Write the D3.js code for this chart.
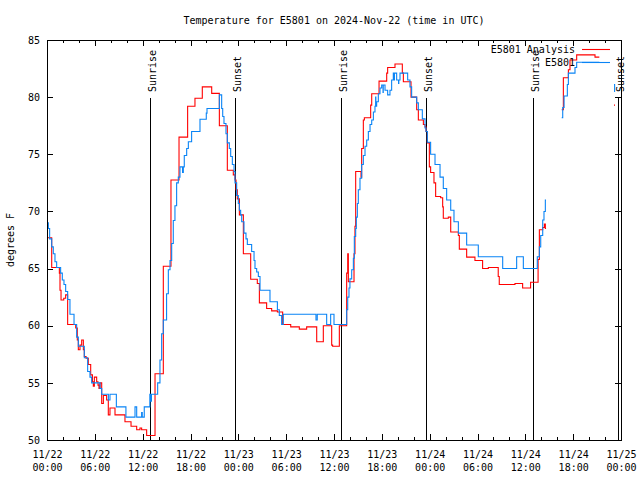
<!DOCTYPE html>
<html><head><meta charset="utf-8">
<script src="https://cdn.jsdelivr.net/npm/d3@7"></script>
<style>
body{margin:0;background:#fff}
svg text{font-family:"DejaVu Sans Mono",monospace;font-size:10px;fill:#000}
</style>
</head><body><svg id="c" width="640" height="480"></svg>
<script>
// ---- data (hours since 2024-11-22 00:00 UTC, temperature in deg F) ----
const tickDates = ["11/22","11/22","11/22","11/22","11/23","11/23","11/23","11/23","11/24","11/24","11/24","11/24","11/25"];
const tickTimes = ["00:00","06:00","12:00","18:00","00:00","06:00","12:00","18:00","00:00","06:00","12:00","18:00","00:00"];
const yTicks = [50,55,60,65,70,75,80,85];
const sunriseHours = [12.93, 36.94, 60.96];
const sunsetHours = [23.53, 47.55, 71.6];
const seriesNames = ["E5801 Analysis","E5801"];

const analysisHours = [0,0.59,1.55,1.63,1.76,2.1,2.34,2.59,3.6,3.8,3.93,4.14,4.35,4.56,4.68,4.9,5.18,5.48,5.7,5.81,5.94,6.23,6.4,6.52,6.65,6.86,7.07,7.48,7.69,7.9,8.53,9.78,10.54,11.25,11.66,11.87,12.5,13.55,14.59,15.55,16.56,17.64,18.56,19.48,20.66,21.62,22.62,23.37,23.58,23.71,23.87,24.13,24.63,25.55,26.38,26.64,27.55,28.18,28.9,29.56,30.57,31.65,32.57,33.83,34.66,35.71,35.83,36.67,37.59,37.72,37.8,38.51,38.63,38.72,39.39,39.47,39.68,39.81,40.6,40.73,41.65,42.61,42.73,43.65,44.57,44.7,45.66,46.37,46.58,47.21,47.42,47.54,47.71,47.96,48.12,48.54,48.75,49.38,49.63,49.71,50.34,50.64,51.6,51.72,52.64,53.68,54.64,55.36,56.6,56.73,58.7,59.66,60.66,61.6,61.76,62.18,62.39,62.51,62.6,62.61,64.56,64.77,65.4,65.6,66.44,68.74,69.28,69.29,71.12,71.25];
const analysisTemps = [67.7,65.1,64.6,63.1,62.25,62.4,62.7,60.1,59.8,58.75,57.9,58.3,58.75,57.9,57.3,57.15,56.6,55.7,55.1,54.7,55.5,55.1,54.8,54.5,55.0,53.2,53.9,53.5,52.2,52.8,52.2,51.6,51.2,50.9,51.05,50.9,50.4,55.8,65.2,72.75,76.5,79.2,79.9,80.9,80.33,77.5,73.6,73.2,72.75,71.9,71.1,69.7,66.3,64.06,63.7,62.0,61.5,61.3,61.2,60.1,59.9,59.7,59.9,58.6,60.0,58.3,58.2,60.0,64.6,66.3,63.85,66.3,68.7,73.5,73.0,75.5,78.0,78.2,79.3,80.3,81.4,82.1,82.6,82.9,82.1,81.35,80.0,78.9,78.0,77.6,77.4,77.0,76.0,73.9,73.4,72.5,71.3,71.2,70.4,69.4,69.5,68.2,67.9,66.7,66.0,65.7,65.0,65.1,64.3,63.6,63.7,63.3,63.8,65.8,68.4,68.6,68.9,68.5,68.5,null,78.9,81.7,82.4,83.25,83.7,83.5,83.5,null,79.3,79.3];

const stationHours = [0,0.17,0.33,0.59,0.79,1.0,1.21,1.71,1.92,2.13,2.34,2.59,2.88,3.39,3.72,3.93,4.68,5.1,5.39,5.6,6.65,6.86,7.7,7.9,8.7,9.9,11.04,11.25,11.87,11.95,12.2,12.9,13.0,13.1,13.88,14.17,14.38,14.59,15.0,15.22,15.43,15.64,15.84,16.05,16.26,16.47,16.68,17.0,17.1,17.22,17.52,17.73,18.14,19.19,19.98,20.07,21.62,21.91,22.04,22.2,22.45,22.62,22.87,23.04,23.25,23.46,23.58,23.79,24.0,24.13,24.29,24.42,24.71,24.96,25.13,25.67,25.97,26.09,26.3,26.51,26.72,27.97,28.9,29.14,29.43,29.64,33.74,33.9,35.08,35.58,36.0,37.59,37.72,37.88,38.0,38.22,38.43,38.55,38.72,38.8,38.93,39.05,39.26,39.47,39.68,39.89,40.1,40.31,40.52,40.73,40.94,41.14,41.22,41.25,41.35,41.56,41.77,41.98,42.15,42.18,42.4,42.73,43.02,43.23,43.44,43.55,43.58,43.86,44.1,44.13,44.28,45.24,45.53,45.74,46.37,46.58,47.08,47.42,47.54,47.71,48.12,48.67,49.3,49.71,50.13,50.64,51.05,51.6,52.64,54.1,57.16,58.91,59.75,61.5,61.76,61.93,62.18,62.34,62.51,62.6,62.61,64.56,64.69,64.86,65.27,65.4,66.23,66.44,69.28,69.29,71.12,71.2,71.25];
const stationTemps = [69.0,68.5,67.6,66.9,66.3,65.6,65.1,64.6,64.0,63.6,63.0,62.3,61.0,60.1,59.0,58.2,57.2,56.0,55.5,55.0,54.5,54.0,53.5,54.0,52.9,52.0,52.9,52.0,52.4,52.0,52.9,54.0,53.4,54.0,55.0,57.0,59.3,60.5,62.8,64.9,65.7,67.2,69.2,70.5,72.5,73.0,73.9,73.4,73.9,74.9,75.5,76.1,77.0,78.06,78.6,79.0,80.2,79.0,78.3,77.7,76.8,76.0,75.5,74.8,74.1,73.5,72.5,71.4,70.7,70.1,69.7,69.1,68.1,67.6,67.1,66.5,65.7,65.0,64.7,64.3,63.1,62.1,61.4,60.9,60.1,61.0,60.5,61.0,60.1,61.0,60.1,61.4,62.5,63.3,64.1,64.9,65.9,67.8,68.5,69.5,70.7,71.9,72.9,74.1,74.9,75.7,76.25,77.0,77.6,78.0,78.7,79.2,80.0,79.2,79.6,80.3,80.8,81.06,80.4,81.06,80.6,80.2,80.6,81.5,82.1,81.5,82.1,81.5,81.2,81.5,82.1,81.5,80.9,80.0,79.5,78.9,78.1,77.3,77.0,76.05,75.0,74.1,73.0,72.0,71.0,70.1,69.1,68.1,67.06,66.04,65.0,66.04,65.0,66.04,66.9,67.9,69.25,70.0,71.0,71.0,null,78.2,79.1,80.1,81.1,82.1,82.6,83.05,83.05,null,81.1,80.5,80.5];

// ---- drawing ----
const svg = d3.select("#c");
const L = 47, R = 621, T = 40, B = 440;
const x = d3.scaleLinear().domain([0,72]).range([L,R]);
const y = d3.scaleLinear().domain([50,85]).range([B,T]);
const majorHours = d3.range(0,73,6);
const minorHours = d3.range(0,73,2).filter(h => h % 6 !== 0);

function styleAxis(g){ g.select(".domain").remove(); g.selectAll("line").attr("stroke","#000").attr("shape-rendering","crispEdges"); g.attr("font-family",null).attr("font-size",null); }

const gb = svg.append("g").attr("transform",`translate(0,${B})`)
  .call(d3.axisBottom(x).tickValues(majorHours).tickSize(-6).tickFormat((d,i)=>tickDates[i]));
styleAxis(gb);
gb.selectAll(".tick text").each(function(d,i){
  const t = d3.select(this).attr("y",18).attr("dy",null).text(null);
  t.append("tspan").attr("x",0).text(tickDates[i]);
  t.append("tspan").attr("x",0).attr("dy",13).text(tickTimes[i]);
});
const gbm = svg.append("g").attr("transform",`translate(0,${B})`)
  .call(d3.axisBottom(x).tickValues(minorHours).tickSize(-3).tickFormat(""));
styleAxis(gbm);
const gt = svg.append("g").attr("transform",`translate(0,${T})`)
  .call(d3.axisTop(x).tickValues(majorHours).tickSize(-6).tickFormat(""));
styleAxis(gt);
const gtm = svg.append("g").attr("transform",`translate(0,${T})`)
  .call(d3.axisTop(x).tickValues(minorHours).tickSize(-3).tickFormat(""));
styleAxis(gtm);
const gl = svg.append("g").attr("transform",`translate(${L},0)`)
  .call(d3.axisLeft(y).tickValues(yTicks).tickSize(-6).tickPadding(7));
styleAxis(gl);
const gr = svg.append("g").attr("transform",`translate(${R},0)`)
  .call(d3.axisRight(y).tickValues(yTicks).tickSize(-6).tickFormat(""));
styleAxis(gr);

const sunEvents = sunriseHours.map(h=>({h,label:"Sunrise"})).concat(sunsetHours.map(h=>({h,label:"Sunset"})));
const sg = svg.append("g");
sg.selectAll("line").data(sunEvents).join("line")
  .attr("x1",d=>Math.round(x(d.h))+0.5).attr("x2",d=>Math.round(x(d.h))+0.5)
  .attr("y1",98).attr("y2",B).attr("stroke","#000").attr("stroke-width",1).attr("shape-rendering","crispEdges");
sg.selectAll("text").data(sunEvents).join("text")
  .attr("transform",d=>`translate(${Math.round(x(d.h))+6},92) rotate(-90)`)
  .attr("text-anchor","start").text(d=>d.label);

const mk = (hs, vs) => hs.map((h,i)=>({h, v: vs[i]}));
const analysis = mk(analysisHours, analysisTemps);
const station = mk(stationHours, stationTemps);
const line = d3.line().defined(d=>d.v!==null).x(d=>x(d.h)).y(d=>y(d.v)).curve(d3.curveStepAfter);
svg.append("path").datum(analysis).attr("d",line).attr("fill","none").attr("stroke","#ff0000").attr("stroke-width",1.1);
svg.append("path").datum(station).attr("d",line).attr("fill","none").attr("stroke","#0a84f5").attr("stroke-width",1.1);

svg.append("rect").attr("x",L+0.5).attr("y",T+0.5).attr("width",R-L).attr("height",B-T)
  .attr("fill","none").attr("stroke","#000").attr("shape-rendering","crispEdges");

const colors = ["#ff0000","#0a84f5"];
const lg = svg.append("g");
seriesNames.forEach((n,i)=>{
  lg.append("text").attr("x",575).attr("y",53+13*i).attr("text-anchor","end").text(n);
  lg.append("line").attr("x1",582).attr("x2",610).attr("y1",49.5+13*i).attr("y2",49.5+13*i)
    .attr("stroke",colors[i]).attr("stroke-width",1.1);
});

svg.append("text").attr("x",(L+R)/2).attr("y",24).attr("text-anchor","middle")
  .text("Temperature for E5801 on 2024-Nov-22 (time in UTC)");
svg.append("text").attr("transform",`translate(14,${(T+B)/2}) rotate(-90)`).attr("text-anchor","middle").text("degrees F");
</script></body></html>
